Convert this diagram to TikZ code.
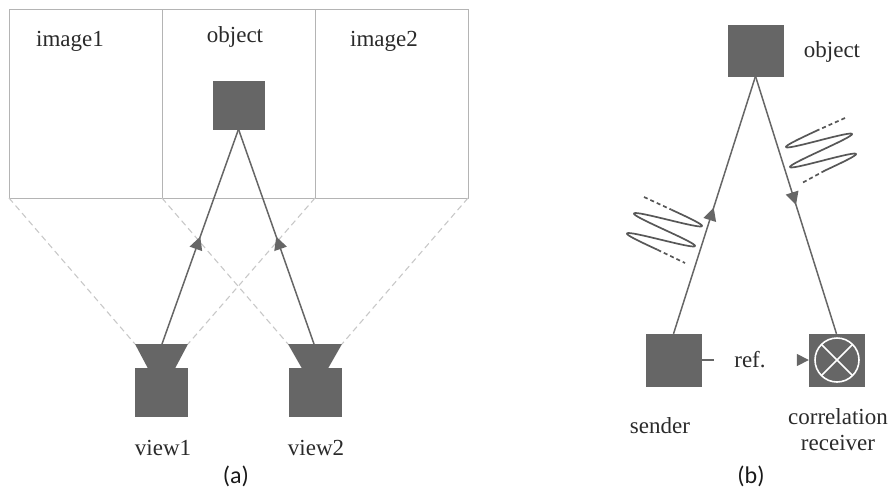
\documentclass[tikz,border=0pt]{standalone}
\usepackage{fontspec}
\setmainfont{Liberation Serif}
\newfontfamily\capfont{Carlito}
\usetikzlibrary{arrows.meta,decorations.markings}
\definecolor{darkfill}{HTML}{666666}
\definecolor{boxline}{HTML}{B4B4B4}
\definecolor{dashline}{HTML}{C8C8C8}
\definecolor{txt}{HTML}{2A2A2A}
\tikzset{
  x=1pt,y=-1pt,
  lab/.style={text=txt,font=\fontsize{23}{26}\selectfont,inner sep=0pt,align=center},
  caplab/.style={text=black!90,font=\capfont\fontsize{24}{26}\selectfont,inner sep=0pt},
  panel/.style={draw=boxline,line width=1pt},
  solidblock/.style={fill=darkfill,draw=darkfill,line width=0.4pt,inner sep=0pt,minimum width=#1},
  viewline/.style={dash pattern=on 6pt off 4pt,draw=dashline,line width=1.1pt},
  ray/.style={draw=darkfill,line width=1.5pt},
  arrowmid/.style={postaction={decorate},decoration={markings,mark=at position #1 with {\arrow{Triangle[length=13pt,width=13pt,color=darkfill]}}}},
  wave/.style={draw=darkfill!85!black,line width=1.7pt,line join=round},
  wavedash/.style={draw=darkfill!85!black,line width=1.7pt,dash pattern=on 4pt off 3pt},
}
\begin{document}
\begin{tikzpicture}
\useasboundingbox (0,0) rectangle (894,488);
% left panels
\draw[panel] (9,9) rectangle (468,198);
\draw[panel] (162,9) -- (162,198);
\draw[panel] (315,9) -- (315,198);
\coordinate (pa) at (9,198);
\coordinate (pb) at (162,198);
\coordinate (pc) at (315,198);
\coordinate (pd) at (468,198);
% cameras
\node[solidblock=52pt,minimum height=48pt] (cam1) at (161.5,392) {};
\node[solidblock=52pt,minimum height=48pt] (cam2) at (315,392) {};
\coordinate (c1l) at (135,344); \coordinate (c1r) at (188,344);
\coordinate (c2l) at (288,344); \coordinate (c2r) at (342,344);
\coordinate (c1t) at (162,344); \coordinate (c2t) at (314,344);
\fill[darkfill] (c1l) -- (c1r) -- (175,368.5) -- (148,368.5) -- cycle;
\fill[darkfill] (c2l) -- (c2r) -- (328,368.5) -- (302,368.5) -- cycle;
\draw[viewline] (pa) -- (c1l);
\draw[viewline] (pb) -- (c2l);
\draw[viewline] (pc) -- (c1r);
\draw[viewline] (pd) -- (c2r);
% object left
\node[solidblock=51pt,minimum height=48pt] (objA) at (238.5,105) {};
\draw[ray,arrowmid=0.5] (c1t) -- (objA.south);
\draw[ray,arrowmid=0.5] (c2t) -- (objA.south);
\node[lab] (image1) at (70,41) {image1};
\node[lab] (objectA) at (235,37) {object};
\node[lab] (image2) at (384,41) {image2};
\node[lab] (view1) at (163,448) {view1};
\node[lab] (view2) at (316,448) {view2};
\node[caplab] (capa) at (236,476) {(a)};
% right diagram
\node[solidblock=55pt,minimum height=51pt] (objB) at (755.5,50.5) {};
\node[solidblock=55pt,minimum height=52pt] (sender) at (673.5,360) {};
\node[solidblock=55pt,minimum height=52pt] (recv) at (836.5,360) {};
\draw[ray,arrowmid=0.49] (sender.north) -- (objB.south);
\draw[ray,arrowmid=0.5] (objB.south) -- (recv.north);
\draw[white,line width=1.6pt] (837,360) circle (22);
\draw[white,line width=1.6pt] (821.4,344.4) -- (852.6,375.6);
\draw[white,line width=1.6pt] (821.4,375.6) -- (852.6,344.4);
\coordinate (refend) at (714,360);
\coordinate (refstart) at (797,360);
\draw[ray] (sender.east) -- (refend);
\draw[ray,-{Triangle[length=12pt,width=12pt,color=darkfill]}] (refstart) -- (recv.west);
\node[lab] (ref) at (750,360) {ref.};
\node[lab] (objectB) at (832,52) {object};
\node[lab] (senderl) at (660,426) {sender};
\node[lab] (recvl) at (838,430) {correlation\\receiver};
\node[caplab] (capb) at (751,476) {(b)};
% waves
\draw[wavedash] (845,118) -- (817,130.5);
\draw[wave] plot[domain=-180:540,samples=145,smooth] ({819+4*\x/360+32*sin(\x)},{140.5+20*\x/360-11.5*sin(\x)});
\draw[wavedash] (825,170.5) -- (802,183);
\draw[wavedash] (644,197) -- (671.5,209.75);
\draw[wave] plot[domain=0:720,samples=145,smooth] ({671.5-7*\x/360+32.25*sin(\x)},{209.75+20*\x/360+11.25*sin(\x)});
\draw[wavedash] (657.5,249.75) -- (685,263);
\end{tikzpicture}
\end{document}
